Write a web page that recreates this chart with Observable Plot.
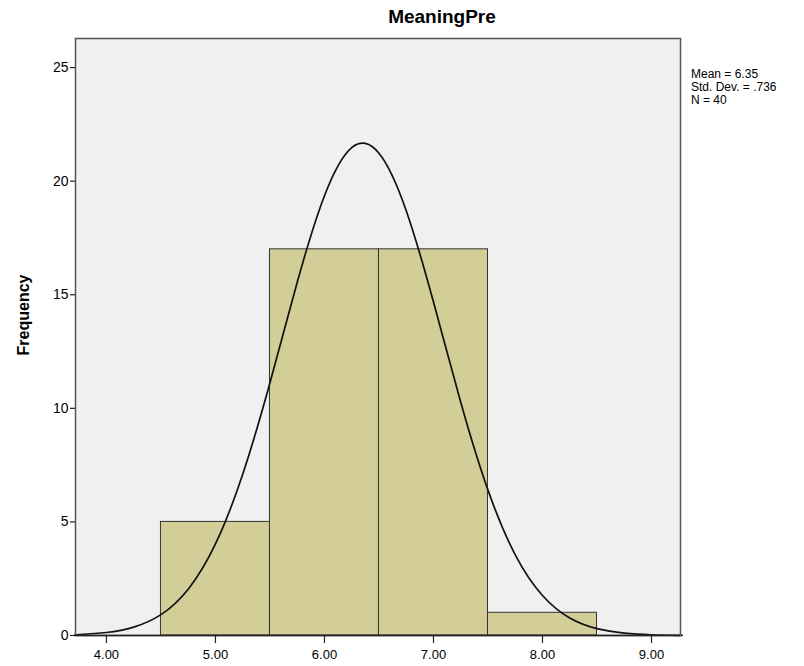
<!DOCTYPE html>
<html>
<head>
<meta charset="utf-8">
<script src="https://cdn.jsdelivr.net/npm/d3@7"></script>
<script src="https://cdn.jsdelivr.net/npm/@observablehq/plot@0.6"></script>
<style>
  body { margin: 0; background: #fff; font-family: Arial, "Liberation Sans", sans-serif; }
  #wrap { position: relative; width: 804px; height: 666px; }
  #title { position: absolute; left: 0; width: 884px; top: 6px; text-align: center; font-weight: bold; font-size: 19px; color: #000; }
  #stats { position: absolute; left: 691px; top: 68px; font-size: 12px; line-height: 13px; color: #000; }
</style>
</head>
<body>
<div id="wrap">
  <div id="chart"></div>
  <div id="title">MeaningPre</div>
  <div id="stats">Mean = 6.35<br>Std. Dev. = .736<br>N = 40</div>
</div>
<script>
const binStart = [4.5, 5.5, 6.5, 7.5];
const binEnd = [5.5, 6.5, 7.5, 8.5];
const frequency = [5, 17, 17, 1];
const curveX = [3.716, 3.75, 4.0, 4.25, 4.5, 4.75, 5.0, 5.25, 5.5, 5.75, 6.0, 6.25, 6.5, 6.75, 7.0, 7.25, 7.5, 7.75, 8.0, 8.25, 8.5, 8.75, 9.0, 9.25, 9.266];
const curveY = [0.036, 0.042, 0.133, 0.37, 0.92, 2.04, 4.03, 7.10, 11.13, 15.55, 19.36, 21.48, 21.23, 18.70, 14.68, 10.27, 6.40, 3.55, 1.76, 0.77, 0.30, 0.106, 0.033, 0.009, 0.008];
const xTicks = [4, 5, 6, 7, 8, 9];
const yTicks = [0, 5, 10, 15, 20, 25];

const bars = binStart.map((s, i) => ({x1: s, x2: binEnd[i], y: frequency[i]}));
const curve = curveX.map((x, i) => ({x, y: curveY[i]}));

const chart = Plot.plot({
  width: 804,
  height: 666,
  marginTop: 38,
  marginBottom: 31,
  marginLeft: 75,
  marginRight: 124,
  style: {fontFamily: "Arial, 'Liberation Sans', sans-serif", fontSize: "13px", color: "#000", background: "#fff"},
  x: {domain: [3.716, 9.266], ticks: xTicks, tickFormat: d => d.toFixed(2), tickSize: 8, label: null},
  y: {domain: [0, 26.28], ticks: yTicks, tickSize: 5, label: null},
  marks: [
    Plot.frame({fill: "#f0f0f0", stroke: "none"}),
    Plot.rectY(bars, {x1: "x1", x2: "x2", y: "y", fill: "#d3ce97", stroke: "#333", strokeWidth: 1}),
    Plot.line(curve, {x: "x", y: "y", curve: "natural", stroke: "#111", strokeWidth: 1.7}),
    Plot.frame({stroke: "#555", strokeWidth: 1.5}),
    Plot.ruleY([0], {stroke: "#222", strokeWidth: 1.5}),
    Plot.axisX({ticks: xTicks, tickFormat: d => d.toFixed(2), tickSize: 8, tickPadding: 6, fontSize: 13, stroke: "#222", strokeWidth: 1.2, label: null}),
    Plot.axisY({ticks: yTicks, tickSize: 5, tickPadding: 2, fontSize: 14, stroke: "#222", strokeWidth: 1.2, label: null}),
    Plot.text(["Frequency"], {frameAnchor: "left", textAnchor: "middle", dx: -52, dy: -22, rotate: -90, fontWeight: "bold", fontSize: 16, text: d => d})
  ]
});
document.getElementById("chart").appendChild(chart);
</script>
</body>
</html>
